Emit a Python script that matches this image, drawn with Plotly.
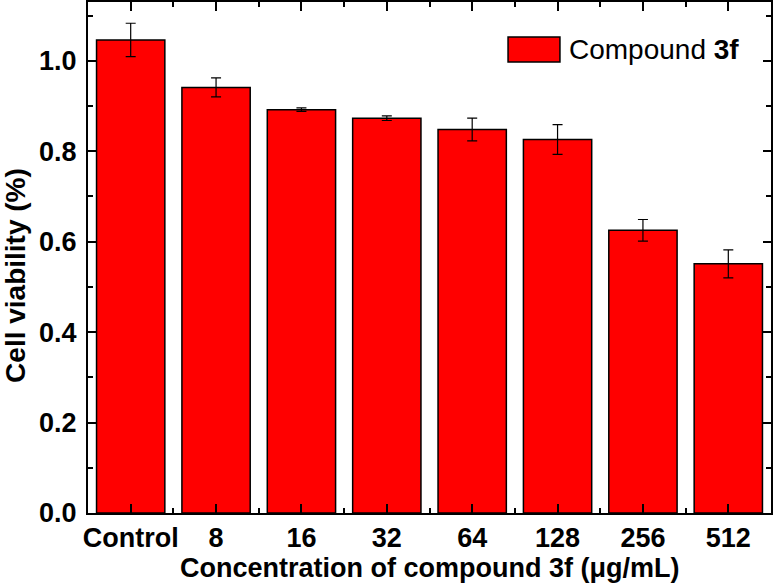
import plotly.graph_objects as go

categories = ["Control", "8", "16", "32", "64", "128", "256", "512"]
viability = [1.046, 0.941, 0.892, 0.873, 0.848, 0.826, 0.625, 0.551]
viability_err = [0.037, 0.021, 0.004, 0.005, 0.025, 0.033, 0.024, 0.031]
y_ticks = [0.0, 0.2, 0.4, 0.6, 0.8, 1.0]

FONT = "Liberation Sans, Arial, sans-serif"
positions = list(range(len(categories)))

fig = go.Figure()
fig.add_trace(
    go.Bar(
        x=positions,
        y=viability,
        width=0.8,
        name="Compound 3f",
        marker=dict(color="#ff0000", line=dict(color="black", width=1.5)),
        error_y=dict(type="data", array=viability_err, color="black", thickness=1.2, width=5),
        showlegend=False,
    )
)

fig.update_xaxes(
    range=[-0.5, len(categories) - 0.5],
    tickmode="array",
    tickvals=positions,
    ticktext=categories,
    ticks="inside",
    ticklen=9,
    tickwidth=1.5,
    tickcolor="black",
    minor=dict(
        tickmode="array",
        tickvals=[p + 0.5 for p in positions[:-1]],
        ticks="inside",
        ticklen=5,
        tickwidth=1.5,
        tickcolor="black",
    ),
    showline=True,
    linewidth=2,
    linecolor="black",
    mirror="ticks",
    showgrid=False,
    zeroline=False,
    automargin=False,
    tickfont=dict(family=FONT, size=27, color="black", weight="bold"),
)

fig.update_yaxes(
    range=[0, 1.13],
    tickmode="array",
    tickvals=y_ticks,
    tickformat=".1f",
    ticks="inside",
    ticklen=8,
    tickwidth=1.5,
    tickcolor="black",
    minor=dict(dtick=0.1, tick0=0, ticks="inside", ticklen=5, tickwidth=1.5, tickcolor="black"),
    showline=True,
    linewidth=2,
    linecolor="black",
    mirror="ticks",
    showgrid=False,
    zeroline=False,
    automargin=False,
    ticklabelstandoff=4,
    tickfont=dict(family=FONT, size=27, color="black", weight="bold"),
)

# legend drawn by hand: large swatch + label
fig.add_shape(
    type="rect", xref="paper", yref="paper",
    x0=0.615, x1=0.691, y0=0.8826, y1=0.9315,
    fillcolor="#ff0000", line=dict(color="black", width=1.5),
)
fig.add_annotation(
    text="Compound <b>3f</b>", xref="paper", yref="paper",
    x=0.701, y=0.908, xanchor="left", yanchor="middle", showarrow=False,
    font=dict(family=FONT, size=28, color="black"),
)

# axis titles
fig.add_annotation(
    text="<b>Concentration of compound 3f (μg/mL)</b>", xref="paper", yref="paper",
    x=0.5, y=0, yshift=-55, xanchor="center", yanchor="middle", showarrow=False,
    font=dict(family=FONT, size=27, color="black"),
)
fig.add_annotation(
    text="<b>Cell viability (%)</b>", xref="paper", yref="paper",
    x=0, y=0.464, xshift=-72, textangle=-90, xanchor="center", yanchor="middle",
    showarrow=False, font=dict(family=FONT, size=28, color="black"),
)

fig.update_layout(
    width=773,
    height=586,
    margin=dict(l=88, r=2, t=2, b=73),
    plot_bgcolor="white",
    paper_bgcolor="white",
    bargap=0.2,
)

# drop the page's default body margin so the figure sits at the window corner
fig.write_html(
    "out.html",
    config={"displayModeBar": False},
    post_script="document.body.style.margin='0';",
)
